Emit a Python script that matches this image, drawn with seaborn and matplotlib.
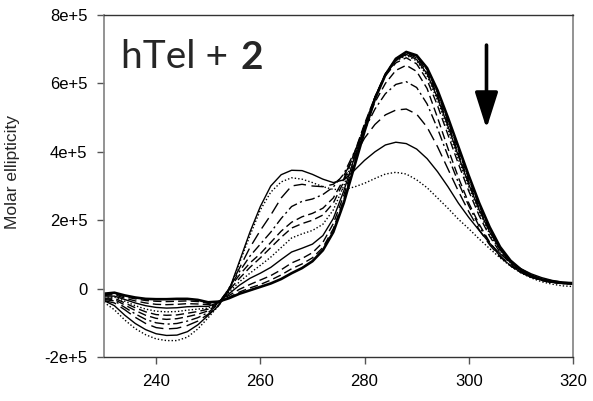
import numpy as np
import pandas as pd
import matplotlib
matplotlib.use("Agg")
import matplotlib.pyplot as plt
import seaborn as sns

# Wavelength grid (nm)
wavelength = list(range(230, 321, 2))

# Molar ellipticity values in units of 1e5
c0 = [-0.15, -0.12, -0.20, -0.26, -0.30, -0.31, -0.31, -0.30, -0.30, -0.33, -0.40, -0.38, -0.28, -0.15, -0.05, 0.05,
      0.15, 0.28, 0.45, 0.60, 0.80, 1.12, 1.65, 2.50, 3.55, 4.60, 5.55, 6.25, 6.72, 6.92, 6.82, 6.45, 5.80, 5.00,
      4.15, 3.30, 2.50, 1.80, 1.22, 0.82, 0.56, 0.38, 0.27, 0.21, 0.17, 0.16]
c1 = [-0.18, -0.15, -0.24, -0.30, -0.35, -0.37, -0.38, -0.37, -0.36, -0.38, -0.43, -0.38, -0.25, -0.10, 0.02, 0.12,
      0.25, 0.40, 0.58, 0.72, 0.90, 1.20, 1.75, 2.60, 3.62, 4.65, 5.58, 6.27, 6.72, 6.90, 6.78, 6.40, 5.72, 4.90,
      4.05, 3.20, 2.42, 1.75, 1.20, 0.80, 0.55, 0.38, 0.27, 0.20, 0.17, 0.15]
c2 = [-0.20, -0.18, -0.28, -0.36, -0.42, -0.46, -0.47, -0.46, -0.44, -0.45, -0.47, -0.38, -0.20, -0.02, 0.12, 0.25,
      0.38, 0.55, 0.75, 0.88, 1.05, 1.35, 1.90, 2.72, 3.70, 4.70, 5.60, 6.28, 6.70, 6.88, 6.75, 6.35, 5.65, 4.82,
      3.95, 3.12, 2.35, 1.70, 1.16, 0.78, 0.53, 0.37, 0.26, 0.20, 0.16, 0.15]
c3 = [-0.22, -0.22, -0.32, -0.42, -0.50, -0.55, -0.57, -0.56, -0.53, -0.52, -0.52, -0.40, -0.15, 0.10, 0.30, 0.45,
      0.62, 0.85, 1.07, 1.18, 1.30, 1.55, 2.05, 2.85, 3.80, 4.75, 5.60, 6.27, 6.67, 6.85, 6.70, 6.28, 5.58, 4.75,
      3.88, 3.05, 2.30, 1.66, 1.14, 0.77, 0.52, 0.36, 0.26, 0.20, 0.16, 0.15]
c4 = [-0.25, -0.25, -0.37, -0.50, -0.60, -0.66, -0.68, -0.67, -0.63, -0.60, -0.57, -0.40, -0.10, 0.20, 0.45, 0.68,
      0.92, 1.20, 1.48, 1.60, 1.70, 1.88, 2.30, 3.00, 3.88, 4.80, 5.60, 6.25, 6.65, 6.82, 6.66, 6.22, 5.50, 4.65,
      3.78, 2.97, 2.23, 1.60, 1.10, 0.75, 0.50, 0.35, 0.25, 0.19, 0.15, 0.14]
c5 = [-0.28, -0.28, -0.42, -0.56, -0.68, -0.76, -0.78, -0.77, -0.72, -0.67, -0.60, -0.40, -0.05, 0.30, 0.62, 0.90,
      1.20, 1.50, 1.77, 1.90, 2.00, 2.15, 2.50, 3.12, 3.95, 4.82, 5.60, 6.22, 6.60, 6.75, 6.57, 6.10, 5.35, 4.50,
      3.65, 2.85, 2.13, 1.53, 1.06, 0.72, 0.49, 0.34, 0.24, 0.18, 0.15, 0.14]
c6 = [-0.30, -0.32, -0.48, -0.64, -0.78, -0.87, -0.90, -0.88, -0.82, -0.75, -0.65, -0.42, 0.00, 0.40, 0.75, 1.02,
      1.35, 1.68, 1.94, 2.10, 2.20, 2.35, 2.65, 3.20, 3.95, 4.75, 5.45, 6.00, 6.38, 6.53, 6.35, 5.85, 5.00, 4.10,
      3.25, 2.50, 1.88, 1.36, 0.96, 0.67, 0.47, 0.33, 0.24, 0.18, 0.15, 0.14]
c7 = [-0.32, -0.36, -0.55, -0.74, -0.90, -1.00, -1.04, -1.02, -0.95, -0.85, -0.70, -0.45, 0.02, 0.50, 0.95, 1.30,
      1.65, 2.05, 2.40, 2.55, 2.62, 2.75, 2.97, 3.35, 3.98, 4.65, 5.25, 5.70, 5.97, 6.05, 5.88, 5.40, 4.68, 3.88,
      3.10, 2.42, 1.82, 1.33, 0.95, 0.67, 0.47, 0.33, 0.24, 0.18, 0.15, 0.14]
c8 = [-0.35, -0.42, -0.62, -0.84, -1.02, -1.14, -1.18, -1.16, -1.08, -0.95, -0.75, -0.48, 0.00, 0.60, 1.20, 1.70,
      2.15, 2.65, 3.00, 3.05, 3.00, 2.98, 3.05, 3.30, 3.85, 4.40, 4.80, 5.08, 5.22, 5.25, 5.10, 4.72, 4.15, 3.50,
      2.85, 2.25, 1.72, 1.28, 0.93, 0.67, 0.48, 0.34, 0.25, 0.19, 0.15, 0.13]
c9 = [-0.35, -0.50, -0.78, -1.02, -1.20, -1.32, -1.37, -1.36, -1.26, -1.06, -0.78, -0.50, -0.05, 0.80, 1.65, 2.40,
      3.00, 3.33, 3.46, 3.45, 3.34, 3.20, 3.10, 3.18, 3.45, 3.75, 4.00, 4.20, 4.28, 4.24, 4.08, 3.80, 3.42, 2.98,
      2.50, 2.08, 1.70, 1.33, 1.02, 0.77, 0.58, 0.43, 0.32, 0.24, 0.19, 0.16]
c10 = [-0.40, -0.62, -0.92, -1.17, -1.35, -1.47, -1.52, -1.52, -1.42, -1.18, -0.85, -0.50, -0.05, 0.75, 1.55, 2.30,
       2.82, 3.12, 3.24, 3.20, 3.10, 2.98, 2.90, 2.90, 2.97, 3.08, 3.22, 3.35, 3.40, 3.35, 3.18, 2.95, 2.65, 2.35,
       2.03, 1.75, 1.45, 1.17, 0.90, 0.66, 0.46, 0.31, 0.20, 0.13, 0.08, 0.06]

curves = [c0, c1, c2, c3, c4, c5, c6, c7, c8, c9, c10]
curve_names = [f"c{i}" for i in range(len(curves))]

dash = (0, (6, 3))
longdash = (0, (9, 4))
dashdot = (0, (7, 2.5, 1.5, 2.5))
dotted = (0, (1, 1.5))
styles = ["-", dash, dash, "-", dotted, dash, dash, dashdot, longdash, "-", dotted]
widths = [1.9, 1.0, 1.0, 1.0, 1.0, 1.0, 1.0, 1.0, 1.0, 1.0, 1.0]

yticks = [-2e5, 0, 2e5, 4e5, 6e5, 8e5]
ytick_labels = ["-2e+5", "0", "2e+5", "4e+5", "6e+5", "8e+5"]
xticks = [240, 260, 280, 300, 320]

rows = []
for name, vals in zip(curve_names, curves):
    for w, v in zip(wavelength, vals):
        rows.append({"wavelength": w, "ellipticity": v * 1e5, "curve": name})
df = pd.DataFrame(rows)

sns.set_style("ticks")
plt.rcParams["font.family"] = ["Liberation Sans", "DejaVu Sans"]

fig = plt.figure(figsize=(5.93, 4.01), dpi=100)
ax = fig.add_axes([104 / 593, 1 - 357 / 401, (573 - 104) / 593, (357 - 15) / 401])

for name, ls, lw in zip(curve_names, styles, widths):
    sub = df[df["curve"] == name]
    sns.lineplot(data=sub, x="wavelength", y="ellipticity", ax=ax, color="black",
                 linestyle=ls, linewidth=lw, legend=False, sort=False)

ax.set_xlim(230, 320)
ax.set_ylim(-2e5, 8e5)
ax.set_xticks(xticks)
ax.set_xticklabels([str(t) for t in xticks], fontsize=12)
ax.set_yticks(yticks)
ax.set_yticklabels(ytick_labels, fontsize=12)
ax.set_xlabel("")
ax.set_ylabel("Molar ellipticity", fontsize=12.5)
ax.yaxis.set_label_coords(-0.179, 0.541)
ax.tick_params(axis="both", direction="out", length=5, width=1, colors="#555555",
               labelcolor="black", pad=7)

for side in ["left", "right"]:
    ax.spines[side].set_color("#808080")
    ax.spines[side].set_linewidth(1.2)
for side in ["top", "bottom"]:
    ax.spines[side].set_color("#333333")
    ax.spines[side].set_linewidth(1.0)

# Downward arrow
ax.annotate("", xy=(303.4, 4.68e5), xytext=(303.4, 7.12e5),
            arrowprops=dict(arrowstyle="-|>,head_width=0.35,head_length=1.1", color="black",
                            lw=2.6, mutation_scale=20, shrinkA=0, shrinkB=0))

t1 = ax.text(233.2, 6.45e5, "hTel +", fontsize=28, family=["Lato", "DejaVu Sans"],
             va="baseline", ha="left")
ax.annotate("2", xy=(1, 0), xycoords=t1, xytext=(9, 0), textcoords="offset points",
            fontsize=28, fontweight="bold", family=["Lato", "DejaVu Sans"],
            va="bottom", ha="left")

fig.savefig("out.png", dpi=100)
